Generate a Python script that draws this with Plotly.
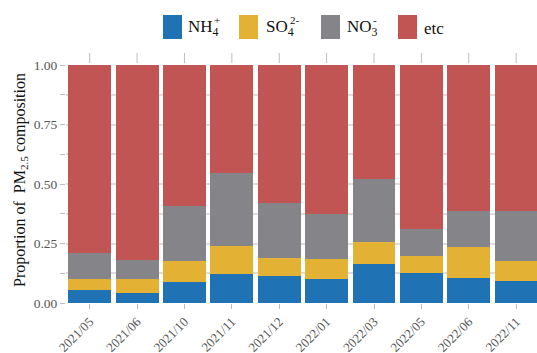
import plotly.graph_objects as go

# Sampling months
months = ["2021/05", "2021/06", "2021/10", "2021/11", "2021/12",
          "2022/01", "2022/03", "2022/05", "2022/06", "2022/11"]

# Mass fractions of PM2.5 components
nh4 = [0.055, 0.043, 0.090, 0.122, 0.115, 0.100, 0.164, 0.126, 0.104, 0.092]
so4 = [0.045, 0.057, 0.088, 0.119, 0.073, 0.085, 0.091, 0.070, 0.133, 0.083]
no3 = [0.111, 0.080, 0.230, 0.307, 0.231, 0.189, 0.266, 0.115, 0.151, 0.213]
etc = [round(1 - a - b - c, 3) for a, b, c in zip(nh4, so4, no3)]

series_names = ["NH4", "SO4", "NO3", "etc"]
series_values = [nh4, so4, no3, etc]
colors = ["#1f72b4", "#e3b234", "#858589", "#c05553"]

# y ticks every 0.125, labelled every 0.25
y_ticks = [0, 0.125, 0.25, 0.375, 0.5, 0.625, 0.75, 0.875, 1.0]
y_tick_text = ["0.00", "", "0.25", "", "0.50", "", "0.75", "", "1.00"]

W, H = 537, 353
ML, MR, MT, MB = 66, 0, 65, 50
PW, PH = W - ML - MR, H - MT - MB
SERIF = "Liberation Serif"
X_RANGE = [-0.5, 9.44]
TICK_GREY = "#bdbdbd"


def px_x(x):
    return (x - ML) / PW


def px_y(y):
    return (H - MB - y) / PH


def data_to_paper_x(v):
    return (v - X_RANGE[0]) / (X_RANGE[1] - X_RANGE[0])


xs = list(range(len(months)))
fig = go.Figure()
for name, vals, col in zip(series_names, series_values, colors):
    fig.add_trace(go.Bar(x=xs, y=vals, name=name, marker_color=col,
                         marker_line_width=0, showlegend=False))

fig.update_layout(
    width=W, height=H,
    margin=dict(l=ML, r=MR, t=MT, b=MB, autoexpand=False),
    barmode="stack", bargap=0.095,
    plot_bgcolor="white", paper_bgcolor="white",
    font=dict(family=SERIF, color="#555555", size=14),
    xaxis=dict(range=X_RANGE, tickmode="array", tickvals=xs,
               ticktext=months, tickangle=-45, ticks="outside", ticklen=5,
               tickcolor=TICK_GREY, tickwidth=1, showgrid=False,
               zeroline=False, showline=False, automargin=False,
               tickfont=dict(size=13, family=SERIF, color="#555555")),
    yaxis=dict(range=[0, 1.0], tickmode="array", tickvals=y_ticks,
               ticktext=y_tick_text, ticks="outside", ticklen=5,
               tickcolor=TICK_GREY, showgrid=True, gridcolor="#dddddd",
               gridwidth=1.5, zeroline=False, showline=False,
               automargin=False,
               tickfont=dict(size=13.5, family=SERIF, color="#555555")),
)

# Tick marks along the top edge, one per month
for x in xs:
    xp = data_to_paper_x(x)
    fig.add_shape(type="line", xref="paper", yref="paper", x0=xp, x1=xp,
                  y0=px_y(63), y1=px_y(53), line=dict(color=TICK_GREY, width=1))

# Axis title
fig.add_annotation(xref="paper", yref="paper", x=px_x(20), y=px_y(180),
                   text="Proportion of  PM<sub>2.5</sub> composition",
                   textangle=-90, showarrow=False,
                   font=dict(size=16, family=SERIF, color="#111111"),
                   xanchor="center", yanchor="middle")

# Legend: swatches with labels
legend_items = [
    (163, 186, "NH<sub>4</sub>", "+", 212),
    (239, 264, "SO<sub>4</sub>", "2-", 288),
    (321, 345, "NO<sub>3</sub>", "-", 371),
    (398, 422, "etc", None, None),
]
for (sx, tx, label, charge, cx), col in zip(legend_items, colors):
    fig.add_shape(type="rect", xref="paper", yref="paper",
                  x0=px_x(sx), x1=px_x(sx + 19), y0=px_y(39), y1=px_y(15),
                  fillcolor=col, line_width=0)
    fig.add_annotation(xref="paper", yref="paper", x=px_x(tx), y=px_y(28),
                       text=label, showarrow=False, xanchor="left",
                       yanchor="middle",
                       font=dict(size=17, family=SERIF, color="#111111"))
    if charge:
        fig.add_annotation(xref="paper", yref="paper", x=px_x(cx), y=px_y(20),
                           text=charge, showarrow=False, xanchor="left",
                           yanchor="middle",
                           font=dict(size=11, family=SERIF, color="#111111"))

fig.write_html("out.html")
